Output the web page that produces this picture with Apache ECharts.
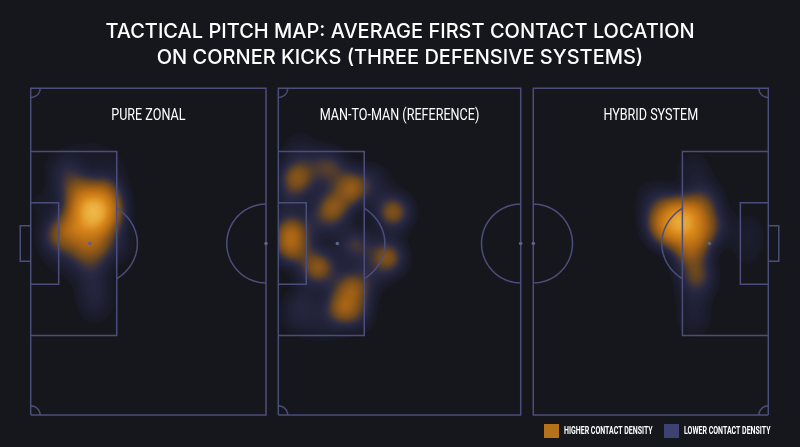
<!DOCTYPE html>
<html>
<head>
<meta charset="utf-8">
<script src="https://cdn.jsdelivr.net/npm/echarts@6/dist/echarts.min.js"></script>
<style>
html, body { margin: 0; padding: 0; background: #16171c; }
#chart { width: 800px; height: 447px; }
</style>
</head>
<body>
<div id="chart"></div>
<script>
// pitch in metres, y is measured from the bottom touchline
var PITCH_W = 68;
var MID_Y = 35.7;
var panelNames = ["PURE ZONAL", "MAN-TO-MAN (REFERENCE)", "HYBRID SYSTEM"];
var panelLengths = [45, 46.4, 45];
var goalSides = ["left", "left", "right"];
var showGoal = [true, false, true];

// first contact locations: [x (m from panel left edge), y (m), weight]
var zonalContacts = [
    [11.7, 42.0, 1.0], [10.2, 43.9, 0.85], [13.3, 43.9, 0.8], [12.7, 40.2, 0.85],
    [9.4, 39.3, 0.75], [14.4, 46.8, 0.65], [6.8, 38.5, 0.65], [4.8, 36.8, 0.5],
    [8.7, 46.8, 0.6], [7.5, 50.2, 0.35], [15.5, 41.8, 0.6], [12.5, 35.6, 0.65],
    [10.2, 34.3, 0.55], [11.7, 30.2, 0.35], [12.1, 26.0, 0.3], [12.3, 22.3, 0.25],
    [16.7, 35.4, 0.3], [6.0, 31.8, 0.2], [15.2, 52.7, 0.2], [5.6, 52.0, 0.2],
    [10.5, 55.5, 0.15], [2.5, 44.0, 0.2]
];
var manContacts = [
    [3.6, 49.5, 0.9], [9.5, 51.6, 0.7], [14.1, 47.3, 0.95], [10.3, 43.1, 0.9],
    [21.9, 42.3, 0.9], [2.4, 38.1, 0.9], [2.4, 34.8, 0.8], [7.6, 30.8, 0.95],
    [14.6, 35.4, 0.65], [20.8, 32.9, 0.9], [14.1, 26.6, 0.85], [12.2, 22.5, 0.85],
    [15.0, 21.2, 0.45], [4.8, 23.9, 0.35], [3.6, 20.2, 0.3], [18.5, 48.9, 0.3],
    [4.2, 55.2, 0.3], [2.2, 44.8, 0.35], [8.0, 39.6, 0.3], [8.5, 18.5, 0.25],
    [17.5, 28.5, 0.25]
];
var hybridContacts = [
    [28.6, 40.0, 1.0], [27.1, 42.0, 0.85], [30.4, 41.8, 0.8], [26.1, 38.1, 0.8],
    [30.9, 37.3, 0.8], [24.2, 40.2, 0.65], [32.8, 44.8, 0.55], [34.2, 39.3, 0.55],
    [30.0, 33.9, 0.75], [31.3, 28.9, 0.7], [30.7, 23.9, 0.25], [30.7, 19.4, 0.25],
    [30.7, 51.0, 0.3], [41.4, 38.9, 0.22], [41.0, 33.9, 0.2], [23.2, 45.2, 0.35]
];
var contacts = [zonalContacts, manContacts, hybridContacts];

var legendNames = ["HIGHER CONTACT DENSITY", "LOWER CONTACT DENSITY"];
var legendColors = ["#b5721a", "#3d4270"];

var LINE = "#4b4e7b";
var NARROW = "Roboto, sans-serif";
var boxes = [
    { left: 30.7, width: 235.3 },
    { left: 278.3, width: 242.4 },
    { left: 533.3, width: 235 }
];
var TOP = 88.3, HEIGHT = 326.7;

function arcPoints(cx, cy, rx, ry, a0, a1) {
    var pts = [];
    for (var a = a0; a <= a1 + 0.01; a += 3) {
        var t = a * Math.PI / 180;
        pts.push([cx + rx * Math.cos(t), cy + ry * Math.sin(t)]);
    }
    return pts;
}

// pitch markings for one half, goal on the left, then mirrored if needed
function pitchLines(L, side, goal) {
    var H = PITCH_W, m = MID_Y;
    var lines = [
        [[0, 0], [L, 0], [L, H], [0, H], [0, 0]],
        [[0, m - 19.15], [16.45, m - 19.15], [16.45, m + 19.15], [0, m + 19.15]],
        [[0, m - 8.5], [5.35, m - 8.5], [5.35, m + 8.5], [0, m + 8.5]],
        arcPoints(11.3, m, 9.1, 8.9, -55.5, 55.5),
        arcPoints(L, m, 7.5, 8.2, 90, 270),
        arcPoints(0, 0, 1.8, 1.9, 0, 90),
        arcPoints(0, H, 1.8, 1.9, -90, 0)
    ];
    if (goal) lines.push([[0, m - 3.7], [-2, m - 3.7], [-2, m + 3.7], [0, m + 3.7]]);
    var spots = [[11.3, m], [L, m]];
    var flip = function (p) { return side === "left" ? p : [L - p[0], p[1]]; };
    return {
        lines: lines.map(function (l) { return l.map(flip); }),
        spots: spots.map(flip)
    };
}

var chart = echarts.init(document.getElementById("chart"));
var geos = [], series = [], graphics = [];

panelLengths.forEach(function (L, i) {
    var mapName = "pitch" + i;
    echarts.registerMap(mapName, {
        type: "FeatureCollection",
        features: [{
            type: "Feature",
            properties: { name: "pitch" },
            geometry: { type: "Polygon", coordinates: [[[0, 0], [L, 0], [L, PITCH_W], [0, PITCH_W], [0, 0]]] }
        }]
    });
    geos.push({
        map: mapName,
        left: boxes[i].left,
        top: TOP,
        width: boxes[i].width,
        height: HEIGHT,
        roam: false,
        silent: true,
        label: { show: false },
        itemStyle: { areaColor: "transparent", borderWidth: 0 },
        emphasis: { disabled: true }
    });
    series.push({
        type: "heatmap",
        coordinateSystem: "geo",
        geoIndex: i,
        pointSize: 15,
        blurSize: 22,
        data: contacts[i]
    });
    graphics.push({
        type: "text",
        x: boxes[i].left + boxes[i].width / 2,
        y: 116,
        scaleX: 0.74,
        style: {
            text: panelNames[i],
            fill: "#ffffff",
            font: "17px " + NARROW,
            align: "center",
            verticalAlign: "middle"
        }
    });
});

panelLengths.forEach(function (L, i) {
    var shapes = pitchLines(L, goalSides[i], showGoal[i]);
    series.push({
        type: "custom",
        coordinateSystem: "geo",
        geoIndex: i,
        z: 5,
        silent: true,
        data: [[0, 0]],
        renderItem: function (params, api) {
            var children = shapes.lines.map(function (pts) {
                return {
                    type: "polyline",
                    shape: { points: pts.map(function (p) { return api.coord(p); }) },
                    style: { stroke: LINE, lineWidth: 1.5, fill: null }
                };
            });
            shapes.spots.forEach(function (p) {
                var c = api.coord(p);
                children.push({
                    type: "circle",
                    shape: { cx: c[0], cy: c[1], r: 1.8 },
                    style: { fill: "#5f628a" }
                });
            });
            return { type: "group", children: children };
        }
    });
});

legendNames.forEach(function (name, i) {
    var x0 = i === 0 ? 544 : 664;
    graphics.push({
        type: "rect",
        shape: { x: x0, y: 424, width: 15, height: 14 },
        style: { fill: legendColors[i] }
    });
    graphics.push({
        type: "text",
        x: x0 + 20,
        y: 431,
        scaleX: 0.7,
        style: {
            text: name,
            fill: "#ffffff",
            font: "bold 10px " + NARROW,
            align: "left",
            verticalAlign: "middle"
        }
    });
});

var option = {
    backgroundColor: "#16171c",
    title: {
        text: "TACTICAL PITCH MAP: AVERAGE FIRST CONTACT LOCATION\nON CORNER KICKS (THREE DEFENSIVE SYSTEMS)",
        left: "center",
        top: 14,
        textStyle: {
            color: "#ffffff",
            fontSize: 20,
            fontWeight: 500,
            lineHeight: 26,
            fontFamily: "Inter, sans-serif"
        }
    },
    visualMap: {
        show: false,
        type: "continuous",
        seriesIndex: [0, 1, 2],
        min: 0,
        max: 1,
        inRange: {
            color: ["rgba(40,44,100,0)", "#3c418a", "#504e92", "#c27a20", "#f28a12", "#ff9d1a", "#ffe070"]
        }
    },
    geo: geos,
    series: series,
    graphic: graphics
};

chart.setOption(option);
</script>
</body>
</html>
